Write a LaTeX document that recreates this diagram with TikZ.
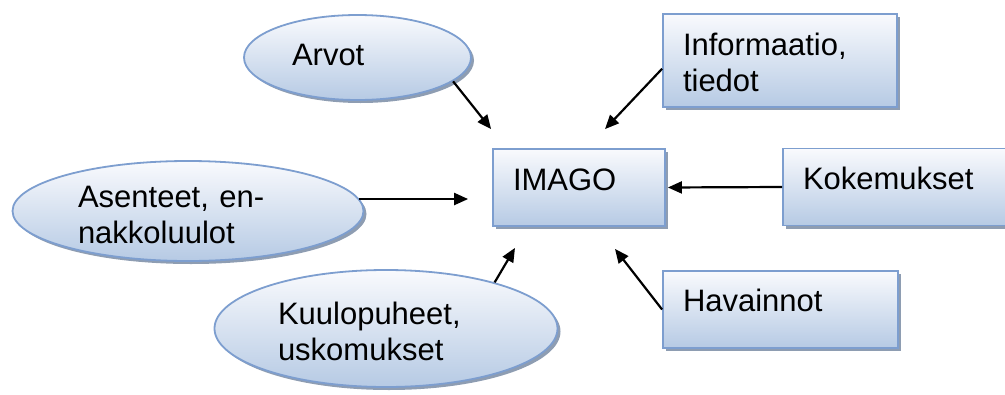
\documentclass[tikz,border=0pt]{standalone}
\usepackage{fontspec}
\setmainfont{Liberation Sans}
\usetikzlibrary{calc,shapes.geometric,shadows,arrows.meta}
\definecolor{edge}{HTML}{7D9ECF}
\definecolor{paletop}{HTML}{F9FAFD}
\definecolor{palebot}{HTML}{B6CAE4}
\definecolor{shadowgray}{HTML}{8E9DB2}
\tikzset{
  soft/.style={draw=edge,line width=1.8pt,top color=paletop,bottom color=palebot,
    drop shadow={shadow xshift=3pt,shadow yshift=-3pt,fill=shadowgray,opacity=1},
    inner sep=0pt,align=left,font=\fontsize{31}{36}\selectfont},
  bx/.style={soft,rectangle,inner xsep=20pt,text height=41pt,text depth=36pt},
  ov/.style={soft,ellipse},
  arr/.style={-{Triangle[length=14pt,width=12pt]},line width=2.2pt},
}

\begin{document}
\begin{tikzpicture}[x=1pt,y=-1pt]
\useasboundingbox (0,0) rectangle (1005,394);
\node[bx,text width=132pt] (imago) at (579,187.5) {IMAGO};
\node[bx,text width=194pt,text depth=52pt] (info) at (780,60.5) {Informaatio,\\tiedot};
\node[bx,text width=187pt] (kok) at (896.5,187) {Kokemukset};
\node[bx,text width=195pt,text height=40pt,text depth=37pt] (hav) at (780.5,309.5) {Havainnot};
\node[ov,minimum width=227pt,minimum height=85pt,text width=131pt,text height=30pt,text depth=15pt] (arvot) at (357.5,57.5) {Arvot};
\node[ov,minimum width=351pt,minimum height=100pt,text width=220pt,text height=31pt,text depth=39pt] (asenteet) at (188,211) {Asenteet, en-\\nakkoluulot};
\node[ov,minimum width=343pt,minimum height=117pt,text width=216pt,text height=31pt,text depth=39pt] (kuulo) at (386,328.5) {Kuulopuheet,\\uskomukset};
% arrows into IMAGO
\draw[arr] (arvot.-14) -- ([shift={(-1,-19)}]imago.north west);
\draw[arr] (info.184) -- ([shift={(26,-19)}]imago.north);
\draw[arr,shorten >=24pt] (asenteet.4) -- (asenteet.4 -| imago.west);
\draw[arr,shorten >=2pt] (kok.west) -- (imago.east);
\draw[arr] (kuulo.23) -- ([shift={(-64,21)}]imago.south);
\draw[arr] (hav.west) -- ([shift={(36,22)}]imago.south);
\end{tikzpicture}
\end{document}
